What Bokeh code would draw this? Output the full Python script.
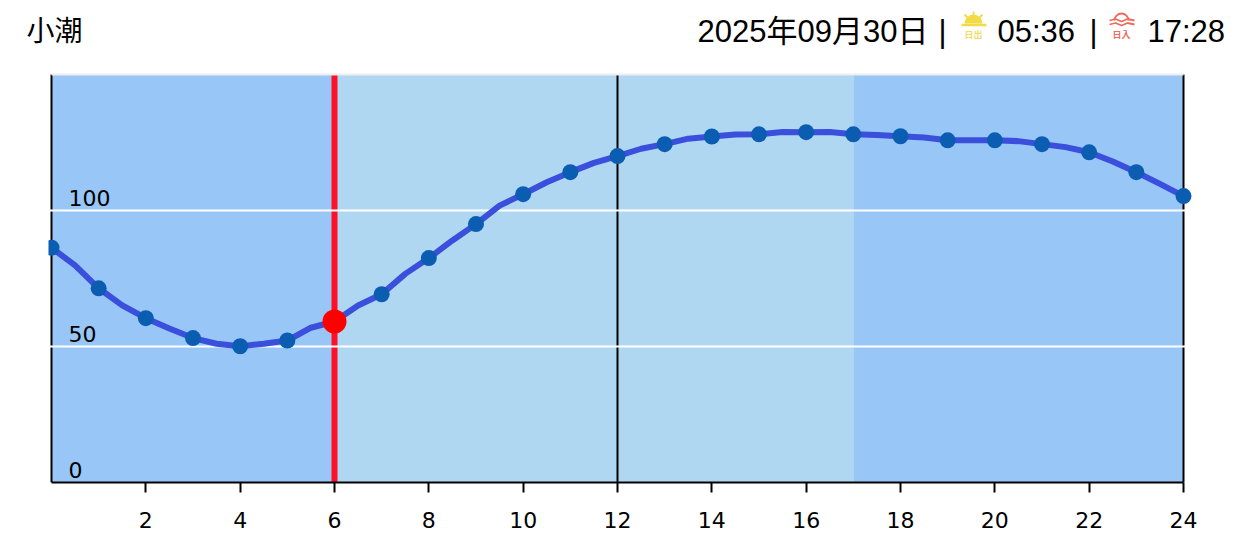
from bokeh.core.properties import value
from bokeh.embed import file_html
from bokeh.layouts import column
from bokeh.models import FixedTicker, Range1d
from bokeh.plotting import figure
from bokeh.resources import INLINE

# ---- data ----
tide_name = "小潮"
date_label = "2025年09月30日"
sunrise = "05:36"
sunset = "17:28"
hours = [i / 2 for i in range(49)]
levels = [
    86.3, 79.8, 71.4, 65.1, 60.4, 56.6, 53.1, 51.0, 50.1, 51.0, 52.2, 56.9,
    59.2, 65.1, 69.2, 76.7, 82.5, 89.0, 95.0, 101.8, 106.0, 110.4, 114.1, 117.5,
    120.0, 122.7, 124.4, 126.4, 127.2, 127.9, 128.0, 128.9, 128.8, 128.9, 128.0, 127.8,
    127.3, 126.8, 125.8, 125.8, 125.8, 125.5, 124.4, 123.3, 121.4, 118.0, 114.1, 109.8,
    105.3,
]
hour_marks = list(range(25))
hour_levels = levels[::2]
band_start = [0, 6, 17]
band_end = [6, 17, 24]
band_colors = ["#98C7F7", "#B0D7F1", "#98C7F7"]
current_hour = 6
current_level = 59.2
x_ticks = list(range(2, 25, 2))
y_ticks = [0, 50, 100]
y_labels = ["0", "50", "100"]
divider_hours = [0, 12, 24]
y_top = 150

SANS = value("Liberation Sans, Noto Sans CJK JP, sans-serif")
CJK = value("Noto Sans CJK JP")
AXF = value("DejaVu Sans")

# ---- header: page-pixel coordinates ----
h = figure(width=1238, height=68, x_range=Range1d(0, 1238), y_range=Range1d(68, 0),
           toolbar_location=None, output_backend="svg",
           min_border=0, min_border_left=0, min_border_right=0, min_border_top=0, min_border_bottom=0,
           outline_line_color=None, frame_align=False)
h.axis.visible = False
h.grid.visible = False


def put(x, y, s, size, font=SANS, color="#000000"):
    h.text([x], [y], text=[s], text_font=font, text_font_size=size, text_color=color,
           text_align="left", text_baseline="middle")


put(26, 28, tide_name, "28px", CJK)
put(697, 31, date_label, "31px")
put(938, 31, "|", "31px")
put(997, 31, sunrise, "31px")
put(1089, 31, "|", "31px")
put(1147, 31, sunset, "31px")

# sunrise icon
SUN = "#F2DC45"
h.wedge([973], [23], radius=9, start_angle=0, end_angle=3.1416, direction="anticlock",
        fill_color=SUN, line_color=None, radius_units="data")
h.segment([961], [24.5], [986], [24.5], line_color=SUN, line_width=2.5)
h.segment([973, 964, 982], [11, 14, 14], [973, 967, 979], [15, 17, 17], line_color=SUN, line_width=1.8)
h.text([973], [34], text=["日出"], text_font=CJK, text_font_size="9px", text_font_style="bold",
       text_color="#F2DC60", text_align="center", text_baseline="middle")

# sunset icon
SET = "#EE6B5C"
h.arc([1121], [20], radius=7, start_angle=0, end_angle=3.1416, direction="anticlock",
      line_color=SET, line_width=1.8)
for wy in (20, 24):
    h.line([1109, 1115, 1121, 1127, 1134], [wy, wy - 1.5, wy + 1, wy - 1.5, wy],
           line_color=SET, line_width=1.8)
h.text([1121], [33.5], text=["日入"], text_font=CJK, text_font_size="9px", text_font_style="bold",
       text_color=SET, text_align="center", text_baseline="middle")

# ---- chart ----
px_per_hour = (1183 - 51) / 24
px_per_unit = 2.72
p = figure(width=1238, height=478, toolbar_location=None, output_backend="svg",
           x_range=Range1d(-3 / px_per_hour, 24 + 10 / px_per_hour),
           y_range=Range1d(0, 410 / px_per_unit),
           min_border_left=48, min_border_right=45, min_border_top=4, min_border_bottom=64,
           outline_line_color=None, background_fill_color=None, frame_align=False)

p.quad(left=band_start, right=band_end, bottom=0, top=y_top, fill_color=band_colors,
       line_color=None, level="image")
p.segment(divider_hours, [0] * 3, divider_hours, [y_top] * 3, line_color="#000000",
          line_width=2, level="image")
p.segment([current_hour], [0], [current_hour], [y_top], line_color="#FF1028", line_width=6, level="image")

p.xgrid.visible = False
p.yaxis.visible = False
p.ygrid.ticker = FixedTicker(ticks=[50, 100])
p.ygrid.grid_line_color = "#FFFFFF"
p.ygrid.grid_line_width = 2
p.ygrid.bounds = (0, 24)
p.segment([0], [y_top], [24], [y_top], line_color="#EEEEEE", line_width=2, level="image")

p.line(hours, levels, line_color="#3A50DC", line_width=6, line_join="round")
p.scatter(hour_marks, hour_levels, size=16, fill_color="#0B5DB2", line_color=None)
p.scatter([current_hour], [current_level], size=24, fill_color="#FF0000", line_color=None)

p.text([0] * 3, y_ticks, text=y_labels, x_offset=17, y_offset=-5, text_font=AXF,
       text_font_size="22px", text_color="#000000", text_align="left", text_baseline="bottom")

ax = p.xaxis[0]
ax.ticker = FixedTicker(ticks=x_ticks)
ax.bounds = (0, 24)
ax.axis_line_color = "#000000"
ax.axis_line_width = 2
ax.major_tick_line_color = "#000000"
ax.major_tick_line_width = 2
ax.major_tick_in = 0
ax.major_tick_out = 10
ax.minor_tick_line_color = None
ax.major_label_text_font = "DejaVu Sans"
ax.major_label_text_font_size = "22px"
ax.major_label_text_color = "#000000"
ax.major_label_standoff = 19

page = column(h, p, spacing=0)
open("out.html", "w").write(file_html(page, INLINE))
